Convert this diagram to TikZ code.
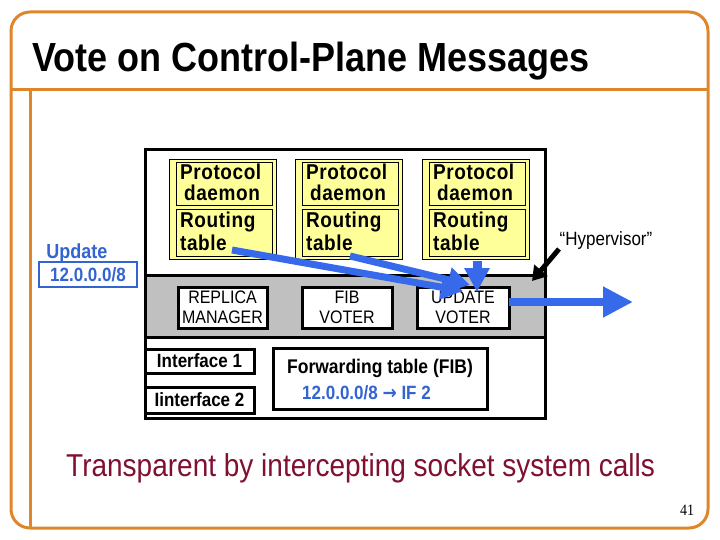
\documentclass[tikz,border=0pt]{standalone}
\usepackage{fontspec}
\setmainfont{Liberation Sans}
\newfontfamily\timesf{Liberation Serif}
\newfontfamily\djv{DejaVu Sans}
\newfontfamily\boxfont[LetterSpace=3]{Liberation Sans}
\usetikzlibrary{arrows.meta}
\definecolor{frameorange}{RGB}{222,134,42}
\definecolor{ybox}{RGB}{255,255,153}
\definecolor{bandgray}{RGB}{192,192,192}
\definecolor{blueA}{RGB}{55,105,235}
\definecolor{blueT}{RGB}{50,100,210}
\definecolor{maroonT}{RGB}{128,16,48}
\newcommand\tall[1]{\scalebox{1}[1.13]{#1}}
\tikzset{
  frame/.style={draw=frameorange, line width=3pt},
  blk/.style={draw=black, line width=3pt, inner sep=0pt, outer sep=0pt},
  ycol/.style={draw=black, line width=0.8pt, fill=ybox, inner sep=0pt, outer sep=0pt},
  ytext/.style={anchor=base west, inner sep=0pt, font=\boxfont\fontsize{19}{19}\selectfont\bfseries},
  wbox/.style={blk, fill=white, minimum width=90, minimum height=41},
  wtext/.style={inner sep=0pt, anchor=base, font=\fontsize{16}{16}\selectfont},
  ifbox/.style={blk, fill=white, font=\fontsize{17}{17}\selectfont\bfseries},
  bluearrow/.style={draw=blueA, line width=7pt, -{Triangle[length=22pt,width=24pt]}},
  lbl/.style={inner sep=0pt},
}
\begin{document}
\begin{tikzpicture}[x=1pt,y=-1pt]
\useasboundingbox (0,0) rectangle (720,540);
% slide frame
\draw[frame, rounded corners=19pt] (11,12) rectangle (708,528);
\draw[frame] (11,90) -- (708,90);
\draw[frame] (30,90) -- (30,528);
% title
\node[lbl, anchor=base west, font=\fontsize{36}{36}\selectfont\bfseries] (title) at (32,72) {\tall{Vote on Control-Plane Messages}};
% system box and band
\node[blk, minimum width=400, minimum height=268] (sys) at (345,284) {};
\node[blk, fill=bandgray, minimum width=400, minimum height=62] (band) at (345,306) {};
% yellow columns
\foreach \i/\l in {1/169, 2/295, 3/422} {
  \node[ycol, minimum width=107, minimum height=100] (col\i) at (\l+53.5,209) {};
  \node[ycol, minimum width=96, minimum height=43] (pd\i) at (\l+55,183.5) {};
  \node[ycol, minimum width=96, minimum height=47] (rt\i) at (\l+55,232.5) {};
  \node[ytext] (tp\i) at (\l+11,179.5) {\tall{Protocol}};
  \node[ytext] (td\i) at (\l+15,201) {\tall{daemon}};
  \node[ytext] (tr\i) at (\l+11,228) {\tall{Routing}};
  \node[ytext] (tt\i) at (\l+11,250) {\tall{table}};
}
% band boxes
\node[wbox, minimum width=89] (rep) at (222.5,307.5) {};
\node[wtext] (rep1) at (222.5,303.5) {\tall{REPLICA}};
\node[wtext] (rep2) at (222.5,323) {\tall{MANAGER}};
\node[wbox] (fibv) at (347,307.5) {};
\node[wtext] (fibv1) at (347,303.5) {\tall{FIB}};
\node[wtext] (fibv2) at (347,323) {\tall{VOTER}};
\node[wbox, minimum width=92] (upd) at (463,307.5) {};
\node[wtext] (upd1) at (463,303.5) {\tall{UPDATE}};
\node[wtext] (upd2) at (463,323) {\tall{VOTER}};
% interfaces
\node[ifbox, minimum width=109, minimum height=24] (if1) at (199.5,361) {\tall{Interface 1}};
\node[ifbox, minimum width=109, minimum height=26] (if2) at (199.5,400) {\tall{Iinterface 2}};
% forwarding table
\node[blk, fill=white, minimum width=214, minimum height=61] (fib) at (380,378.5) {};
\node[lbl, font=\fontsize{17.5}{17.5}\selectfont\bfseries] (fibt) at (380,368) {\tall{Forwarding table (FIB)}};
\node[lbl, anchor=west, text=blueT, font=\fontsize{17}{17}\selectfont\bfseries] (fibe) at (302,393) {\tall{12.0.0.0/8 {\djv\bfseries →} IF 2}};
% update label
\node[lbl, text=blueT, font=\fontsize{18}{18}\selectfont\bfseries] (updl) at (77,253) {\tall{Update}};
\node[draw=blueT, line width=2.5pt, minimum width=98, minimum height=25, inner sep=0pt, text=blueT, font=\fontsize{17}{17}\selectfont\bfseries] (pfx) at (88,274.5) {\tall{12.0.0.0/8}};
% hypervisor
\node[lbl, font=\fontsize{17}{17}\selectfont] (hyp) at (606,241) {\tall{“Hypervisor”}};
\coordinate (hypt) at (559,249);
\coordinate (hyph) at (532,281);
\draw[line width=5pt, -{Triangle[length=14pt,width=17pt]}] (hypt) -- (hyph);
% blue arrows
\coordinate (a1s) at (232,250);
\coordinate (a1e) at (463,291);
\coordinate (a2s) at (350,256);
\coordinate (a2e) at (470,285);
\coordinate (a3s) at (477,261);
\coordinate (a3e) at (477,292);
\coordinate (a4e) at (633,302);
\draw[bluearrow] (a1s) -- (a1e);
\draw[bluearrow] (a2s) -- (a2e);
\draw[draw=blueA, line width=9pt, -{Triangle[length=24pt,width=24pt]}] (a3s) -- (a3e);
\draw[draw=blueA, line width=8pt, -{Triangle[length=30pt,width=29pt]}] (upd.east |- a4e) -- (a4e);
% bottom text
\node[lbl, anchor=base west, text=maroonT, font=\fontsize{28}{28}\selectfont] (note) at (66,476) {\tall{Transparent by intercepting socket system calls}};
\node[lbl, font=\timesf\fontsize{14}{14}\selectfont] (pg) at (687,510) {\tall{41}};
\end{tikzpicture}
\end{document}
